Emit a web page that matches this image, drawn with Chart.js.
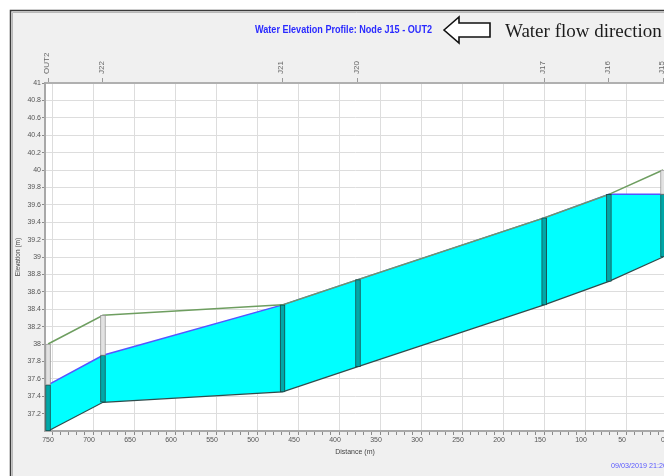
<!DOCTYPE html>
<html>
<head>
<meta charset="utf-8">
<title>Water Elevation Profile</title>
<style>
  html, body { margin: 0; padding: 0; overflow: hidden; background: #ffffff; }
  #wrap { width: 664px; height: 476px; overflow: hidden; position: relative; }
  canvas { display: block; }
</style>
<script src="https://cdn.jsdelivr.net/npm/chart.js@4.4.1/dist/chart.umd.min.js"></script>
</head>
<body>
<div id="wrap"><canvas id="profile" width="700" height="476"></canvas></div>
<script>
// Nodes along the profile, distance measured from the upstream node J15
const nodeNames    = ['OUT2', 'J22', 'J21', 'J20', 'J17', 'J16', 'J15'];
const nodeDistance = [750, 683, 464, 372, 145, 66, 0];

// Elevations (m) at each node
const invertElev = [37.00, 37.33, 37.45, 37.74, 38.45, 38.72, 39.00];
const crownElev  = [38.00, 38.33, 38.45, 38.74, 39.45, 39.72, 40.00];
const waterElev  = [37.53, 37.87, 38.45, 38.74, 39.45, 39.72, 39.72];

// Axis tick labels
const distanceLabels  = [750, 700, 650, 600, 550, 500, 450, 400, 350, 300, 250, 200, 150, 100, 50, 0];
const elevationLabels = [41, 40.8, 40.6, 40.4, 40.2, 40, 39.8, 39.6, 39.4, 39.2, 39, 38.8, 38.6, 38.4, 38.2, 38, 37.8, 37.6, 37.4, 37.2];

const chartTitle = 'Water Elevation Profile: Node J15 - OUT2';
const flowNote   = 'Water flow direction';
const stampText  = '09/03/2019 21:20:00';

const X_MIN = -2.4, X_MAX = 753.7;

Chart.defaults.font.family = "'Liberation Sans', Arial, sans-serif";

const toPoints = arr => nodeDistance.map((d, i) => ({ x: d, y: arr[i] }));

const wetBars = nodeDistance.map((d, i) => ({ x: d, y: [invertElev[i], waterElev[i]] }));
const dryBars = nodeDistance
  .map((d, i) => ({ x: d, y: [waterElev[i], crownElev[i]] }))
  .filter(p => p.y[1] - p.y[0] > 0.005);

// Minor distance ticks every 10 m between the labelled ones
function distanceTickList() {
  const list = [];
  for (let v = 0; v <= 750; v += 10) list.push({ value: v });
  return list;
}

// Window frame, grey panel and white plotting area
const backdrop = {
  id: 'backdrop',
  beforeDraw(chart) {
    const { ctx, chartArea: a } = chart;
    ctx.save();
    ctx.fillStyle = '#ffffff';
    ctx.fillRect(0, 0, chart.width, chart.height);
    ctx.fillStyle = '#f0f0f0';
    ctx.fillRect(10, 10, chart.width - 10, chart.height - 10);
    ctx.strokeStyle = '#b8b8b8';
    ctx.lineWidth = 1;
    ctx.beginPath();
    ctx.moveTo(12.5, chart.height); ctx.lineTo(12.5, 12.5); ctx.lineTo(chart.width, 12.5);
    ctx.stroke();
    ctx.strokeStyle = '#3a3a3a';
    ctx.lineWidth = 1.5;
    ctx.beginPath();
    ctx.moveTo(10.5, chart.height); ctx.lineTo(10.5, 10.5); ctx.lineTo(chart.width, 10.5);
    ctx.stroke();
    ctx.fillStyle = '#ffffff';
    ctx.fillRect(a.left, a.top, a.right - a.left, a.bottom - a.top);
    ctx.restore();
  }
};

function fittedText(ctx, text, x, y, width, font, color) {
  ctx.save();
  ctx.font = font;
  const w = ctx.measureText(text).width;
  ctx.translate(x, y);
  ctx.scale(width / w, 1);
  ctx.fillStyle = color;
  ctx.textAlign = 'left';
  ctx.textBaseline = 'middle';
  ctx.fillText(text, 0, 0);
  ctx.restore();
}

// Title, flow-direction arrow and time stamp
const annotations = {
  id: 'annotations',
  afterDraw(chart) {
    const { ctx } = chart;
    fittedText(ctx, chartTitle, 255, 30, 177, 'bold 10px "Liberation Sans", Arial, sans-serif', '#2a2aff');

    ctx.save();
    ctx.beginPath();
    ctx.moveTo(444, 30);
    ctx.lineTo(459, 17);
    ctx.lineTo(459, 23);
    ctx.lineTo(490, 23);
    ctx.lineTo(490, 37);
    ctx.lineTo(459, 37);
    ctx.lineTo(459, 43);
    ctx.closePath();
    ctx.fillStyle = '#ffffff';
    ctx.fill();
    ctx.lineJoin = 'miter';
    ctx.strokeStyle = '#111111';
    ctx.lineWidth = 1.6;
    ctx.stroke();

    ctx.font = '19px "Liberation Serif", "Times New Roman", serif';
    ctx.fillStyle = '#1c1c1c';
    ctx.textAlign = 'left';
    ctx.textBaseline = 'alphabetic';
    ctx.fillText(flowNote, 505, 37);
    ctx.restore();

    fittedText(ctx, stampText, 611, 466, 66, '8px "Liberation Sans", Arial, sans-serif', '#5a5aff');
  }
};

new Chart(document.getElementById('profile'), {
  type: 'line',
  data: {
    datasets: [
      {
        label: 'Water surface',
        data: toPoints(waterElev),
        borderColor: '#5555ff',
        borderWidth: 1.5,
        backgroundColor: '#00ffff',
        fill: 1,
        pointRadius: 0,
        tension: 0,
        order: 5
      },
      {
        label: 'Invert',
        data: toPoints(invertElev),
        borderColor: '#2e4c4c',
        borderWidth: 1.2,
        pointRadius: 0,
        fill: false,
        tension: 0,
        order: 4
      },
      {
        label: 'Crown',
        data: toPoints(crownElev),
        borderColor: '#6e9e60',
        borderWidth: 1.5,
        pointRadius: 0,
        fill: false,
        tension: 0,
        order: 3
      },
      {
        type: 'bar',
        label: 'Node (wet)',
        data: wetBars,
        backgroundColor: '#00a8a8',
        borderColor: '#1b4a4a',
        borderWidth: 1,
        borderSkipped: false,
        barThickness: 5,
        grouped: false,
        order: 2
      },
      {
        type: 'bar',
        label: 'Node (dry)',
        data: dryBars,
        backgroundColor: '#e2e2e2',
        borderColor: '#9a9a9a',
        borderWidth: 1,
        borderSkipped: false,
        barThickness: 5,
        grouped: false,
        order: 1
      }
    ]
  },
  options: {
    responsive: false,
    animation: false,
    events: [],
    layout: { padding: { left: 0, right: 35, top: 40, bottom: 0 } },
    plugins: {
      legend: { display: false },
      tooltip: { enabled: false },
      title: { display: false }
    },
    scales: {
      x: {
        type: 'linear',
        position: 'bottom',
        reverse: true,
        min: X_MIN,
        max: X_MAX,
        offset: false,
        afterBuildTicks: s => { s.ticks = distanceTickList(); },
        afterFit: s => { s.height = 45; },
        ticks: {
          autoSkip: false,
          maxRotation: 0,
          minRotation: 0,
          padding: 1,
          color: '#555555',
          font: { size: 7 },
          callback: v => distanceLabels.includes(v) ? String(v) : ''
        },
        grid: {
          color: c => (c.tick && c.tick.value % 50 === 0) ? '#dddddd' : 'rgba(0,0,0,0)',
          tickColor: '#8a8a8a',
          tickLength: 4,
          lineWidth: 1
        },
        border: { color: '#a8a8a8', width: 2 },
        title: {
          display: true,
          text: 'Distance (m)',
          color: '#444444',
          font: { size: 7 },
          padding: { top: 0, bottom: 20 }
        }
      },
      nodes: {
        type: 'linear',
        axis: 'x',
        position: 'top',
        reverse: true,
        min: X_MIN,
        max: X_MAX,
        offset: false,
        afterBuildTicks: s => { s.ticks = nodeDistance.map(v => ({ value: v })); },
        afterFit: s => { s.height = 43; },
        ticks: {
          autoSkip: false,
          minRotation: 90,
          maxRotation: 90,
          padding: 4,
          labelOffset: 8,
          color: '#666666',
          font: { size: 8 },
          callback: (v, i) => nodeNames[i]
        },
        grid: { drawOnChartArea: false, tickColor: '#9a9a9a', tickLength: 5 },
        border: { color: '#b0b0b0', width: 2 }
      },
      y: {
        type: 'linear',
        position: 'left',
        min: 37,
        max: 41,
        afterBuildTicks: s => { s.ticks = elevationLabels.map(v => ({ value: v })); },
        afterFit: s => { s.width = 45; },
        ticks: {
          autoSkip: false,
          padding: 1,
          color: '#555555',
          font: { size: 7 },
          callback: v => String(v)
        },
        grid: { color: '#dddddd', tickColor: '#8a8a8a', tickLength: 3, lineWidth: 1 },
        border: { color: '#a8a8a8', width: 2 },
        title: {
          display: true,
          text: 'Elevation (m)',
          color: '#444444',
          font: { size: 6.5 },
          padding: { top: 14, bottom: 0 }
        }
      }
    }
  },
  plugins: [backdrop, annotations]
});
</script>
</body>
</html>
